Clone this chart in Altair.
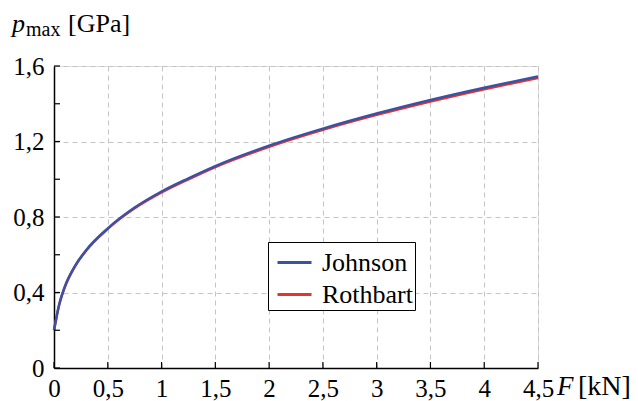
import altair as alt
import pandas as pd

# Data
force = [0.0, 0.02, 0.05, 0.1, 0.2, 0.3, 0.5, 0.75, 1.0, 1.25, 1.5, 2.0, 2.5, 3.0, 3.5, 4.0, 4.5]
johnson = [0.20, 0.26, 0.34, 0.43, 0.545, 0.625, 0.74, 0.85, 0.935, 1.005, 1.07, 1.178, 1.268, 1.348, 1.42, 1.485, 1.545]
rothbart = [0.20, 0.26, 0.339, 0.428, 0.543, 0.623, 0.737, 0.846, 0.930, 1.0, 1.065, 1.172, 1.262, 1.341, 1.412, 1.477, 1.537]
x_ticks = [0, 0.5, 1, 1.5, 2, 2.5, 3, 3.5, 4, 4.5]
y_ticks = [0, 0.2, 0.4, 0.6, 0.8, 1.0, 1.2, 1.4, 1.6]

series = ["Johnson", "Rothbart"]
colors = ["#3a52a3", "#e8322c"]

rows = []
for name, vals in (("Johnson", johnson), ("Rothbart", rothbart)):
    for f, v in zip(force, vals):
        rows.append({"F": f, "p": v, "Model": name})
df = pd.DataFrame(rows)

W, H = 484, 302
FONT = "Times New Roman, Liberation Serif, DejaVu Serif, serif"
FS = 25
FS_T = 26

xscale = alt.Scale(domain=[0, 4.5], nice=False, zero=False)
yscale = alt.Scale(domain=[0, 1.6], nice=False, zero=False)

xaxis = alt.Axis(
    values=x_ticks, title=None, grid=True, gridDash=[5, 4], gridColor="#c4c4c4",
    ticks=False, domainColor="black", domainWidth=1.5, labelFont=FONT,
    labelFontSize=FS, labelColor="black", labelPadding=8, labelFlush=False,
    labelOverlap=False,
    labelExpr="replace(format(datum.value, '~g'), '.', ',')",
)
yaxis = alt.Axis(
    values=y_ticks, title=None, grid=True, gridDash=[5, 4], gridColor="#c4c4c4",
    ticks=False, domainColor="black", domainWidth=1.5, labelFont=FONT,
    labelFontSize=FS, labelColor="black", labelPadding=10, labelFlush=False,
    labelOverlap=False,
    labelExpr="(round(datum.value*10) % 4 == 0) ? replace(format(datum.value, '~g'), '.', ',') : ''",
)

legend = alt.Legend(
    title=None, orient="none", legendX=214, legendY=176,
    symbolType="stroke", symbolSize=1156, symbolStrokeWidth=3,
    labelFont=FONT, labelFontSize=FS_T, labelColor="black",
    strokeColor="black", fillColor="white", padding=2,
    rowPadding=0, labelOffset=9, symbolOffset=6,
)

rothbart_line = alt.Chart(df[df.Model == "Rothbart"]).mark_line(
    strokeWidth=2.5, interpolate="monotone"
).encode(
    x=alt.X("F:Q", scale=xscale, axis=xaxis),
    y=alt.Y("p:Q", scale=yscale, axis=yaxis),
    color=alt.Color("Model:N", scale=alt.Scale(domain=series, range=colors), legend=legend),
)
johnson_line = alt.Chart(df[df.Model == "Johnson"]).mark_line(
    strokeWidth=2.5, interpolate="monotone"
).encode(
    x=alt.X("F:Q", scale=xscale),
    y=alt.Y("p:Q", scale=yscale),
    color=alt.Color("Model:N", scale=alt.Scale(domain=series, range=colors), legend=legend),
)

# inward tick marks
yt = pd.DataFrame({"v": y_ticks})
xt = pd.DataFrame({"v": x_ticks})
ytick_rules = alt.Chart(yt).mark_rule(color="black", strokeWidth=1.2).encode(
    y=alt.Y("v:Q", scale=yscale), x=alt.value(0), x2=alt.value(6)
)
xtick_rules = alt.Chart(xt).mark_rule(color="black", strokeWidth=1.2).encode(
    x=alt.X("v:Q", scale=xscale), y=alt.value(H), y2=alt.value(H - 6)
)

def txt(s, x, y, size=FS_T, style="normal"):
    return alt.Chart(pd.DataFrame({"t": [s]})).mark_text(
        font=FONT, fontSize=size, fontStyle=style, align="left",
        baseline="alphabetic", color="black"
    ).encode(text="t:N", x=alt.value(x), y=alt.value(y))

titles = (
    txt("p", -42, -34, style="italic")
    + txt("max", -28, -30, size=20)
    + txt("[GPa]", 14, -34)
    + txt("F", 503, 329, size=27, style="italic")
    + txt("[kN]", 524, 329, size=28)
)

chart = alt.layer(rothbart_line, johnson_line, ytick_rules, xtick_rules, titles).properties(
    width=W, height=H,
    autosize=alt.AutoSizeParams(type="none"),
    padding={"left": 54, "top": 66, "right": 100, "bottom": 33},
).configure_view(stroke=None).configure(background="white")

chart.save("out.html", embed_options={"renderer": "svg", "actions": False})
